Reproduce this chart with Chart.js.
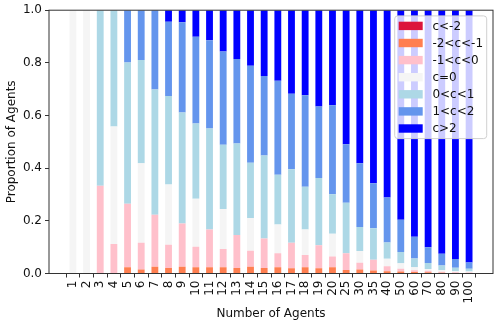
<!DOCTYPE html>
<html lang="en">
<head>
<meta charset="UTF-8">
<title>Proportion of Agents</title>
<script src="https://cdn.jsdelivr.net/npm/chart.js"></script>
<style>
  html, body { margin: 0; padding: 0; background: #fff; }
</style>
</head>
<body>
<canvas id="myChart" width="495" height="327"></canvas>
<script>
// number of agents (x categories)
const agents = ['1','2','3','4','5','6','7','8','9','10','11','12','13','14','15','16','17','18','19','20',
                '25','30','35','40','50','60','70','80','90','100'];

const yTicks = [0, 0.2, 0.4, 0.6, 0.8, 1.0];

// proportion of agents in each bucket of c, one value per category
const cLtMinus2 = [0,0,0,0,0,0,0,0,0,0, 0,0,0,0,0,0,0,0,0,0, 0,0,0,0,0,0,0,0,0,0];
const cMinus2to1 = [0,0,0,0,0.024,0.015,0.026,0.021,0.026,0.024, 0.024,0.024,0.021,0.026,0.021,0.024,0.020,0.024,0.020,0.024,
                    0.013,0.015,0.011,0.009,0.008,0.006,0.005,0.003,0.002,0.002];
const cMinus1to0 = [0,0,0.333,0.112,0.241,0.102,0.197,0.088,0.164,0.078, 0.143,0.069,0.125,0.060,0.112,0.053,0.097,0.046,0.087,0.041,
                    0.064,0.026,0.041,0.019,0.010,0.006,0.005,0.004,0.003,0.002];
const cZero = [1,1,0,0.446,0,0.302,0,0.229,0,0.182, 0,0.152,0,0.125,0,0.109,0,0.097,0,0.086,
               0,0.044,0,0.028,0.021,0.012,0.007,0.005,0.004,0.004];
const c0to1 = [0,0,0.667,0.442,0.536,0.392,0.476,0.336,0.421,0.286, 0.384,0.244,0.348,0.210,0.315,0.189,0.279,0.162,0.256,0.150,
               0.192,0.092,0.120,0.062,0.043,0.033,0.023,0.018,0.013,0.010];
const c1to2 = [0,0,0,0,0.199,0.189,0.301,0.282,0.343,0.329, 0.335,0.354,0.321,0.368,0.302,0.357,0.287,0.348,0.271,0.338,
               0.222,0.242,0.171,0.171,0.122,0.083,0.060,0.045,0.033,0.024];
const cGt2 = [0,0,0,0,0,0,0,0.044,0.046,0.101, 0.114,0.157,0.185,0.211,0.250,0.268,0.317,0.323,0.366,0.361,
              0.509,0.581,0.657,0.711,0.796,0.860,0.900,0.925,0.945,0.958];

const seriesNames = ['c<-2', '-2<c<-1', '-1<c<0', 'c=0', '0<c<1', '1<c<2', 'c>2'];
const seriesColors = ['#DC143C', '#FF7F50', '#FFC0CB', '#F5F5F5', '#ADD8E6', '#6495ED', '#0000FF'];
const seriesValues = [cLtMinus2, cMinus2to1, cMinus1to0, cZero, c0to1, c1to2, cGt2];

const FONT = 'DejaVu Sans';
const FSIZE = 12;

// legend drawn inside the plot, top right (like matplotlib)
const innerLegend = {
    id: 'innerLegend',
    afterDraw(chart) {
        const ctx = chart.ctx;
        const area = chart.chartArea;
        const sets = chart.data.datasets;
        const w = 92, rowH = 17.1;
        const x0 = area.right - 6.3 - w;
        const y0 = area.top + 5.7;
        const h = rowH * sets.length + 3;
        ctx.save();
        ctx.beginPath();
        ctx.roundRect(x0, y0, w, h, 3);
        ctx.fillStyle = 'rgba(255,255,255,0.8)';
        ctx.fill();
        ctx.strokeStyle = '#d0d0d0';
        ctx.lineWidth = 1;
        ctx.stroke();
        ctx.font = FSIZE + 'px "' + FONT + '"';
        ctx.textBaseline = 'middle';
        sets.forEach((ds, i) => {
            const cy = y0 + 10 + i * rowH;
            ctx.fillStyle = ds.backgroundColor;
            ctx.fillRect(x0 + 4, cy - 4.2, 24, 8.4);
            ctx.fillStyle = '#111';
            ctx.fillText(ds.label, x0 + 37.7, cy + 0.5);
        });
        ctx.restore();
    }
};

// axes frame on top of the bars
const frame = {
    id: 'frame',
    afterDatasetsDraw(chart) {
        const a = chart.chartArea;
        const ctx = chart.ctx;
        ctx.save();
        ctx.strokeStyle = '#333';
        ctx.lineWidth = 1;
        ctx.strokeRect(a.left, a.top, a.right - a.left, a.bottom - a.top);
        ctx.restore();
    }
};

const datasets = seriesNames.map((name, s) => ({
    label: name,
    data: seriesValues[s].map((v, i) => ({ x: i, y: v })),
    backgroundColor: seriesColors[s],
    borderWidth: 0,
    barPercentage: 0.5,
    categoryPercentage: 1.0
}));

const config = {
    type: 'bar',
    data: { datasets: datasets },
    options: {
        responsive: false,
        animation: false,
        layout: { padding: { top: 9, right: 2, left: 0, bottom: 0 } },
        plugins: { legend: { display: false }, tooltip: { enabled: false } },
        scales: {
            x: {
                type: 'linear',
                stacked: true,
                min: -1.75,
                max: 30.75,
                offset: false,
                border: { display: false },
                grid: { drawOnChartArea: false, drawTicks: true, tickLength: 4, color: '#333' },
                ticks: {
                    stepSize: 1,
                    autoSkip: false,
                    includeBounds: false,
                    minRotation: 90,
                    maxRotation: 90,
                    padding: 3,
                    color: '#111',
                    font: { family: FONT, size: FSIZE },
                    callback: (v) => agents[v] ?? ''
                },
                afterBuildTicks: (scale) => {
                    scale.ticks = scale.ticks.filter(t => Number.isInteger(t.value) && t.value >= 0 && t.value < agents.length);
                },
                afterFit: (scale) => { scale.height = 53.5; },
                title: {
                    display: true,
                    text: 'Number of Agents',
                    color: '#111',
                    font: { family: FONT, size: FSIZE },
                    padding: { top: 0, bottom: 5.8 }
                }
            },
            y: {
                stacked: true,
                min: 0,
                max: 1,
                border: { display: false },
                grid: { drawOnChartArea: false, drawTicks: true, tickLength: 4, color: '#333' },
                ticks: {
                    stepSize: 0.2,
                    padding: 3,
                    color: '#111',
                    font: { family: FONT, size: FSIZE },
                    callback: (v) => yTicks.some(t => Math.abs(t - v) < 1e-9) ? v.toFixed(1) : ''
                },
                afterFit: (scale) => { scale.width = 49; },
                title: {
                    display: true,
                    text: 'Proportion of Agents',
                    color: '#111',
                    font: { family: FONT, size: FSIZE },
                    padding: { top: 4.8, bottom: 0 }
                }
            }
        }
    },
    plugins: [frame, innerLegend]
};

const ctx = document.getElementById('myChart').getContext('2d');
new Chart(ctx, config);
</script>
</body>
</html>
